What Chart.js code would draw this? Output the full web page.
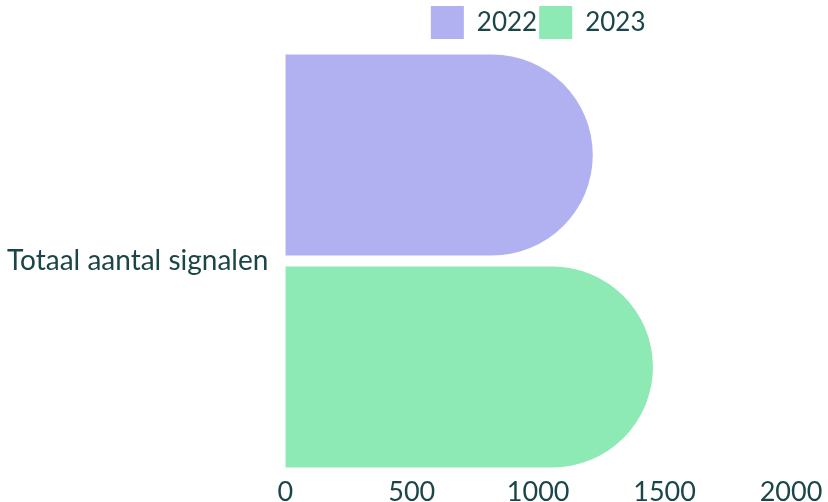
<!DOCTYPE html>
<html>
<head>
<meta charset="utf-8">
<script src="https://cdn.jsdelivr.net/npm/chart.js@4.4.1/dist/chart.umd.min.js"></script>
<style>
  html, body { margin: 0; padding: 0; background: #ffffff; }
  #wrap { width: 828px; height: 502px; }
</style>
</head>
<body>
<div id="wrap"><canvas id="signalChart"></canvas></div>
<script>
const categories = ["Totaal aantal signalen"];
const years = ["2022", "2023"];
const values2022 = [1216];
const values2023 = [1454];
const xTicks = [0, 500, 1000, 1500, 2000];

const textColor = "#1b4649";
const fontFamily = "Lato, 'Noto Sans', sans-serif";

const ctx = document.getElementById("signalChart");
window.signalChart = new Chart(ctx, {
  type: "bar",
  data: {
    labels: categories,
    datasets: [
      { label: years[0], data: values2022, backgroundColor: "#b1b1f2" },
      { label: years[1], data: values2023, backgroundColor: "#8eeab4" }
    ]
  },
  options: {
    indexAxis: "y",
    responsive: true,
    maintainAspectRatio: false,
    animation: false,
    layout: { padding: { left: -2, right: 37, top: 4, bottom: -2 } },
    datasets: {
      bar: {
        borderRadius: 200,
        borderSkipped: "start",
        categoryPercentage: 1,
        barPercentage: 0.948
      }
    },
    plugins: {
      legend: {
        position: "top",
        fullSize: false,
        labels: {
          color: textColor,
          font: { family: fontFamily, size: 26 },
          boxWidth: 33,
          boxHeight: 33,
          padding: 2
        }
      },
      tooltip: { enabled: false }
    },
    scales: {
      x: {
        min: 0,
        max: 2000,
        afterBuildTicks: (axis) => { axis.ticks = xTicks.map((v) => ({ value: v })); },
        grid: { display: false },
        border: { display: false },
        ticks: {
          color: textColor,
          font: { family: fontFamily, size: 27, lineHeight: 1 },
          padding: -2,
          callback: (v) => String(v)
        }
      },
      y: {
        grid: { display: false },
        border: { display: false },
        ticks: { color: textColor, font: { family: fontFamily, size: 28 }, padding: 9 }
      }
    }
  }
});
</script>
</body>
</html>
